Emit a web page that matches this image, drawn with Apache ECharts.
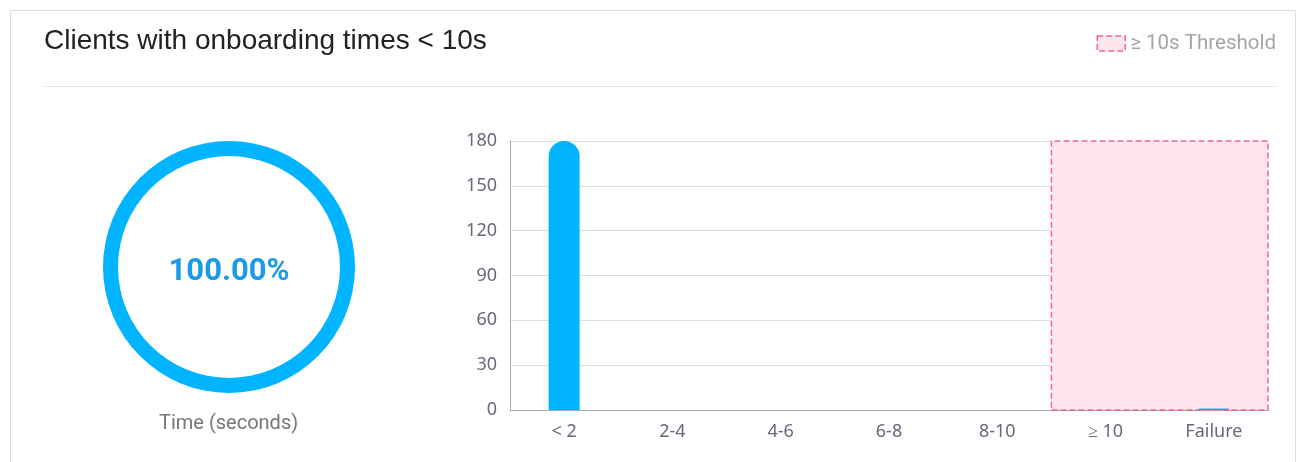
<!DOCTYPE html>
<html>
<head>
<meta charset="utf-8">
<script src="https://cdn.jsdelivr.net/npm/echarts@6/dist/echarts.min.js"></script>
<style>
  html, body { margin: 0; padding: 0; background: #fff; }
  #main { width: 1308px; height: 462px; }
</style>
</head>
<body>
<div id="main"></div>
<script>
// data
var categories = ['< 2', '2-4', '4-6', '6-8', '8-10', '≥ 10', 'Failure'];
var clientCounts = [180, 0, 0, 0, 0, 0, 1];
var yTicks = [0, 30, 60, 90, 120, 150, 180];
var successPct = [100, 0];
var thresholdRange = ['≥ 10', 'Failure'];

var echar = echarts.init(document.getElementById('main'));
var option = {
    animation: false,
    title: {
        text: 'Clients with onboarding times < 10s',
        left: 39,
        top: 22,
        textStyle: {
            fontFamily: 'Liberation Sans, Arial',
            fontWeight: 'normal',
            fontSize: 28,
            color: '#222'
        }
    },
    legend: {
        right: 27,
        top: 28,
        itemWidth: 28,
        itemHeight: 15,
        itemGap: 9,
        icon: 'rect',
        textStyle: { color: '#a5a5a5', fontSize: 20.5, fontFamily: 'Roboto' },
        itemStyle: {
            color: '#ffe6ec',
            borderColor: '#f0688a',
            borderWidth: 1.5,
            borderType: 'dashed'
        },
        data: ['≥ 10s Threshold']
    },
    graphic: [
        {
            type: 'rect',
            shape: { x: 10.5, y: 10.5, width: 1285, height: 470 },
            style: { fill: 'none', stroke: '#ddd', lineWidth: 1 }
        },
        {
            type: 'line',
            shape: { x1: 44, y1: 86.5, x2: 1276, y2: 86.5 },
            style: { stroke: '#e3e3e3', lineWidth: 1 }
        },
        {
            type: 'text',
            x: 229,
            y: 272,
            z: 10,
            style: {
                text: successPct[0].toFixed(2) + '%',
                fill: '#1c9ae6',
                fontSize: 31,
                fontWeight: 'bold',
                fontFamily: 'Roboto',
                textAlign: 'center',
                textVerticalAlign: 'middle'
            }
        },
        {
            type: 'text',
            left: 159,
            top: 414,
            style: { text: 'Time (seconds)', fill: '#777', fontSize: 20, fontFamily: 'Roboto' }
        }
    ],
    grid: {
        left: 510,
        right: 40,
        top: 141,
        bottom: 52
    },
    xAxis: {
        type: 'category',
        data: categories,
        axisTick: { show: false },
        axisLine: { lineStyle: { color: '#aaa' } },
        axisLabel: { color: '#666a78', fontSize: 18, margin: 13, fontFamily: 'Noto Sans' }
    },
    yAxis: {
        type: 'value',
        min: yTicks[0],
        max: yTicks[yTicks.length - 1],
        interval: 30,
        axisTick: { show: false },
        axisLine: { show: true, lineStyle: { color: '#aaa' } },
        splitLine: { lineStyle: { color: '#ddd' } },
        axisLabel: { color: '#666a78', fontSize: 18, margin: 13, fontFamily: 'Noto Sans' }
    },
    series: [
        {
            name: 'Clients',
            type: 'bar',
            barWidth: 31,
            barGap: '-100%',
            data: clientCounts,
            itemStyle: { color: '#00b4ff', borderRadius: [16, 16, 0, 0] },
            markArea: {
                silent: true,
                itemStyle: {
                    color: '#ffe6ec',
                    borderColor: '#f0688a',
                    borderWidth: 1.5,
                    borderType: 'dashed'
                },
                data: [[
                    { xAxis: thresholdRange[0], yAxis: yTicks[yTicks.length - 1] },
                    { xAxis: thresholdRange[1], yAxis: 0 }
                ]]
            },
            z: 3
        },
        {
            name: '≥ 10s Threshold',
            type: 'bar',
            barWidth: 31,
            barGap: '-100%',
            data: [],
            itemStyle: { color: '#ffe6ec' }
        },
        {
            name: 'Success',
            type: 'pie',
            center: [229, 267],
            radius: [111, 126],
            silent: true,
            label: { show: false },
            labelLine: { show: false },
            data: [
                { value: successPct[0], name: 'ok', itemStyle: { color: '#00b4ff' } },
                { value: successPct[1], name: 'slow', itemStyle: { color: '#ffe6ec' } }
            ]
        }
    ]
};
echar.setOption(option);
</script>
</body>
</html>
